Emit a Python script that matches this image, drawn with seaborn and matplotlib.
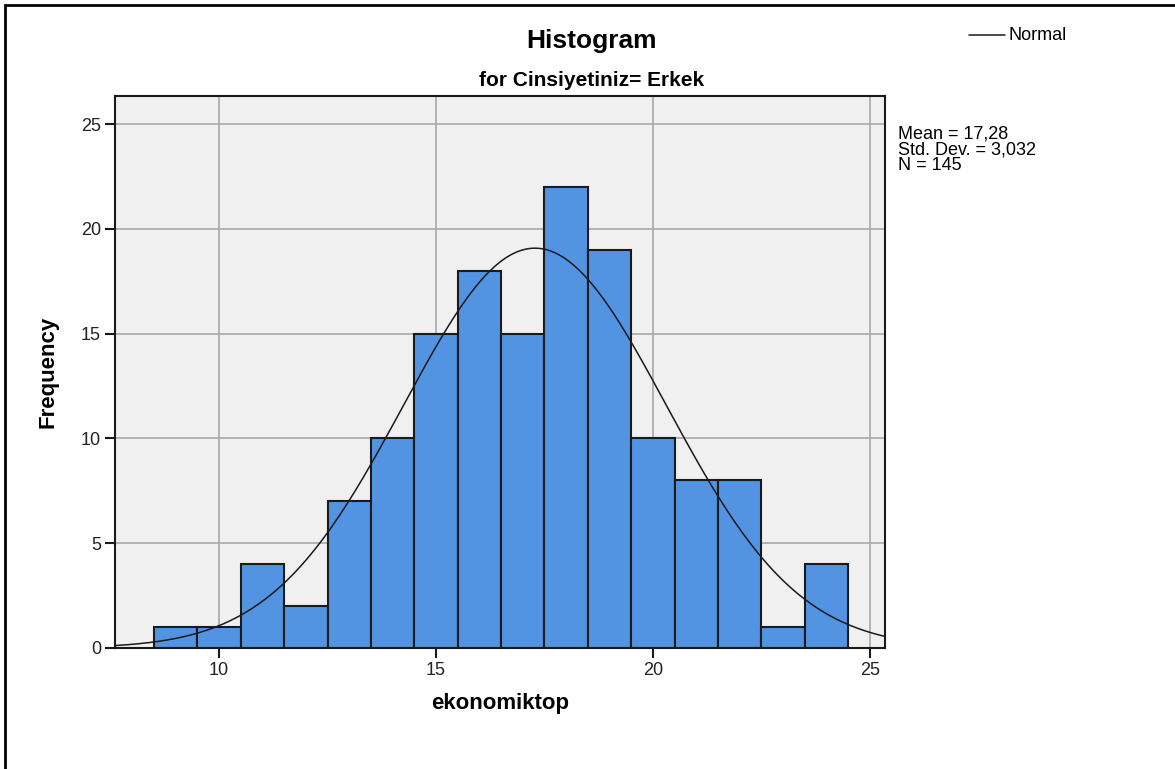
# histograma estilo SPSS: ekonomiktop para Erkek
import numpy as np
import matplotlib.pyplot as plt
import seaborn as sns
from matplotlib.patches import Rectangle

# datos
centros    = [9, 10, 11, 12, 13, 14, 15, 16, 17, 18, 19, 20, 21, 22, 23, 24]
frecuencia = [1, 1, 4, 2, 7, 10, 15, 18, 15, 22, 19, 10, 8, 8, 1, 4]
bordes     = [8.5 + i for i in range(17)]
media, desv, n_total = 17.28, 3.032, 145

sns.set_style("white")
plt.rcParams["font.family"] = ["Liberation Sans", "DejaVu Sans"]
plt.rcParams["text.color"] = "black"

fig = plt.figure(figsize=(11.75, 7.69), dpi=100)
# marco exterior
fig.patches.append(Rectangle((5 / 1175, -0.1), 1.2, 1 - 5 / 769 + 0.1,
                             transform=fig.transFigure, fill=False,
                             edgecolor="black", lw=2))

ax = fig.add_axes([115 / 1175, 1 - 648 / 769, 770 / 1175, 552 / 769])
ax.set_facecolor("#f0f0f0")

sns.histplot(x=centros, weights=frecuencia, bins=bordes, ax=ax,
             color="#5294e2", alpha=1, edgecolor="#1a1a1a", linewidth=1.5,
             zorder=2)

# curva normal ajustada
xs = np.linspace(7.6, 25.4, 300)
ys = n_total * 1.0 / (desv * np.sqrt(2 * np.pi)) * np.exp(-0.5 * ((xs - media) / desv) ** 2)
sns.lineplot(x=xs, y=ys, ax=ax, color="#1a1a1a", lw=1.1, zorder=3)

ax.set_xlim(7.6, 25.35)
ax.set_ylim(0, 26.34)
ax.set_xticks([10, 15, 20, 25])
ax.set_yticks([0, 5, 10, 15, 20, 25])
ax.grid(True, color="#a8a8a8", lw=1.2, zorder=0)
ax.set_axisbelow(True)
for s in ax.spines.values():
    s.set_color("#1a1a1a")
    s.set_linewidth(1.5)
ax.tick_params(axis="both", direction="out", length=7, width=1.5,
               bottom=True, left=True,
               color="#1a1a1a", labelsize=13, labelcolor="#222222", pad=3)

ax.set_xlabel("ekonomiktop", fontsize=16, fontweight="bold", labelpad=10,
              color="black")
ax.set_ylabel("Frequency", fontsize=16, fontweight="bold", labelpad=16,
              color="black")

fig.text(592 / 1175, 1 - 41 / 769, "Histogram", fontsize=19, fontweight="bold",
         ha="center", va="center")
fig.text(592 / 1175, 1 - 80 / 769, "for Cinsiyetiniz= Erkek", fontsize=15,
         fontweight="bold", ha="center", va="center")

# leyenda y estadisticos
fig.add_artist(plt.Line2D([969 / 1175, 1005 / 1175], [1 - 35 / 769, 1 - 35 / 769],
                          color="#1a1a1a", lw=1.1))
fig.text(1008 / 1175, 1 - 36 / 769, "Normal", fontsize=13, va="center")
lineas_stats = [
    "Mean = " + f"{media:.2f}".replace(".", ","),
    "Std. Dev. = " + f"{desv:.3f}".replace(".", ","),
    f"N = {n_total}",
]
for i, linea in enumerate(lineas_stats):
    fig.text(898 / 1175, 1 - (134 + 16 * i) / 769, linea, fontsize=13,
             va="center")

plt.savefig("out.png", dpi=100)
plt.close()
